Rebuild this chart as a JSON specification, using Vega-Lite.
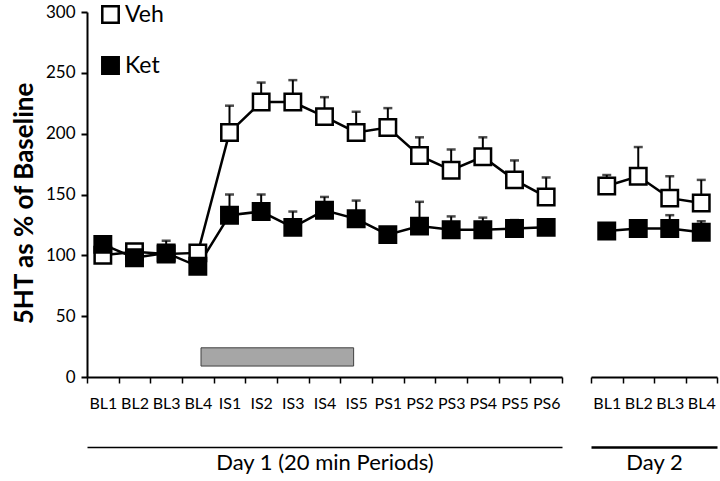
{
  "$schema": "https://vega.github.io/schema/vega-lite/v6.json",
  "background": "white",
  "padding": {"left": 11, "top": 3, "right": 2, "bottom": 5},
  "config": {
    "view": {"stroke": null},
    "font": "Lato",
    "concat": {"spacing": 25},
    "axis": {"domainColor": "black", "tickColor": "black", "labelColor": "black", "titleColor": "black", "grid": false}
  },
  "datasets": {
    "main": [
      {"day": 1, "idx": 1, "period": "BL1", "group": "Veh", "value": 100, "upper": 102},
      {"day": 1, "idx": 2, "period": "BL2", "group": "Veh", "value": 103, "upper": 105},
      {"day": 1, "idx": 3, "period": "BL3", "group": "Veh", "value": 101, "upper": 104},
      {"day": 1, "idx": 4, "period": "BL4", "group": "Veh", "value": 102, "upper": 103},
      {"day": 1, "idx": 5, "period": "IS1", "group": "Veh", "value": 201, "upper": 223},
      {"day": 1, "idx": 6, "period": "IS2", "group": "Veh", "value": 226, "upper": 242},
      {"day": 1, "idx": 7, "period": "IS3", "group": "Veh", "value": 226, "upper": 244},
      {"day": 1, "idx": 8, "period": "IS4", "group": "Veh", "value": 214, "upper": 230},
      {"day": 1, "idx": 9, "period": "IS5", "group": "Veh", "value": 201, "upper": 218},
      {"day": 1, "idx": 10, "period": "PS1", "group": "Veh", "value": 205, "upper": 221},
      {"day": 1, "idx": 11, "period": "PS2", "group": "Veh", "value": 182, "upper": 197},
      {"day": 1, "idx": 12, "period": "PS3", "group": "Veh", "value": 170, "upper": 187},
      {"day": 1, "idx": 13, "period": "PS4", "group": "Veh", "value": 181, "upper": 197},
      {"day": 1, "idx": 14, "period": "PS5", "group": "Veh", "value": 162, "upper": 178},
      {"day": 1, "idx": 15, "period": "PS6", "group": "Veh", "value": 148, "upper": 164},
      {"day": 2, "idx": 1, "period": "BL1", "group": "Veh", "value": 157, "upper": 166},
      {"day": 2, "idx": 2, "period": "BL2", "group": "Veh", "value": 165, "upper": 189},
      {"day": 2, "idx": 3, "period": "BL3", "group": "Veh", "value": 147, "upper": 165},
      {"day": 2, "idx": 4, "period": "BL4", "group": "Veh", "value": 143, "upper": 162},
      {"day": 1, "idx": 1, "period": "BL1", "group": "Ket", "value": 109, "upper": 111},
      {"day": 1, "idx": 2, "period": "BL2", "group": "Ket", "value": 98, "upper": 100},
      {"day": 1, "idx": 3, "period": "BL3", "group": "Ket", "value": 102, "upper": 112},
      {"day": 1, "idx": 4, "period": "BL4", "group": "Ket", "value": 91, "upper": 93},
      {"day": 1, "idx": 5, "period": "IS1", "group": "Ket", "value": 133, "upper": 150},
      {"day": 1, "idx": 6, "period": "IS2", "group": "Ket", "value": 136, "upper": 150},
      {"day": 1, "idx": 7, "period": "IS3", "group": "Ket", "value": 123, "upper": 136},
      {"day": 1, "idx": 8, "period": "IS4", "group": "Ket", "value": 137, "upper": 148},
      {"day": 1, "idx": 9, "period": "IS5", "group": "Ket", "value": 130, "upper": 145},
      {"day": 1, "idx": 10, "period": "PS1", "group": "Ket", "value": 117, "upper": 119},
      {"day": 1, "idx": 11, "period": "PS2", "group": "Ket", "value": 124, "upper": 144},
      {"day": 1, "idx": 12, "period": "PS3", "group": "Ket", "value": 121, "upper": 132},
      {"day": 1, "idx": 13, "period": "PS4", "group": "Ket", "value": 121, "upper": 131},
      {"day": 1, "idx": 14, "period": "PS5", "group": "Ket", "value": 122, "upper": 129},
      {"day": 1, "idx": 15, "period": "PS6", "group": "Ket", "value": 123, "upper": 125},
      {"day": 2, "idx": 1, "period": "BL1", "group": "Ket", "value": 120, "upper": 122},
      {"day": 2, "idx": 2, "period": "BL2", "group": "Ket", "value": 122, "upper": 124},
      {"day": 2, "idx": 3, "period": "BL3", "group": "Ket", "value": 122, "upper": 133},
      {"day": 2, "idx": 4, "period": "BL4", "group": "Ket", "value": 119, "upper": 128}
    ],
    "bar": [{"start": 3.6, "end": 8.42, "low": 9, "high": 24}],
    "day2frame": [{"pos": 0}, {"pos": 4}]
  },
  "resolve": {"scale": {"fill": "independent"}, "legend": {"fill": "independent"}},
  "hconcat": [
    {
      "width": 475,
      "height": 365,
      "resolve": {"scale": {"x": "independent"}, "axis": {"x": "independent"}},
      "layer": [
        {
          "data": {"name": "bar"},
          "mark": {"type": "rect", "fill": "#a6a6a6", "stroke": "#404040", "strokeWidth": 1},
          "encoding": {
            "x": {"field": "start", "type": "quantitative", "scale": {"domain": [0, 15], "nice": false, "zero": false},
              "axis": {"orient": "bottom", "offset": 70, "ticks": false, "labels": false, "domainWidth": 1.5,
                "title": "Day 1 (20 min Periods)", "titleFontSize": 22, "titleFontWeight": "normal", "titlePadding": 5}},
            "x2": {"field": "end"},
            "y": {"field": "low", "type": "quantitative", "scale": {"domain": [0, 300], "nice": false},
              "axis": {"values": [0, 50, 100, 150, 200, 250, 300], "domainWidth": 2, "tickWidth": 2, "tickSize": 6, "labelFontSize": 17, "labelPadding": 6,
                "title": "5HT as % of Baseline", "titleFontSize": 26, "titleFontWeight": "bold", "titlePadding": 8, "titleY": 191}},
            "y2": {"field": "high"}
          }
        },
        {
          "data": {"name": "main"},
          "transform": [{"filter": "datum.day == 1"}],
          "encoding": {
            "x": {"field": "period", "type": "nominal",
              "scale": {"domain": ["BL1","BL2","BL3","BL4","IS1","IS2","IS3","IS4","IS5","PS1","PS2","PS3","PS4","PS5","PS6"], "paddingInner": 0, "paddingOuter": 0},
              "axis": {"orient": "bottom", "tickBand": "extent", "labelAngle": 0, "labelFontSize": 16, "labelPadding": 12, "tickSize": 6, "tickWidth": 1.5, "domainWidth": 2, "title": null}},
            "y": {"field": "value", "type": "quantitative", "scale": {"domain": [0, 300], "nice": false},
              "axis": {"values": [0, 50, 100, 150, 200, 250, 300], "domainWidth": 2, "tickWidth": 2, "tickSize": 6, "labelFontSize": 17, "labelPadding": 6,
                "title": "5HT as % of Baseline", "titleFontSize": 26, "titleFontWeight": "bold", "titlePadding": 8, "titleY": 191}}
          },
          "layer": [
            {"mark": {"type": "line", "color": "black", "strokeWidth": 2.5},
              "encoding": {"detail": {"field": "group"}, "order": {"field": "idx", "type": "quantitative"}}},
            {"mark": {"type": "rule", "color": "black", "strokeWidth": 2},
              "encoding": {"y2": {"field": "upper"}}},
            {"mark": {"type": "tick", "color": "black", "orient": "horizontal", "size": 9, "thickness": 2.5},
              "encoding": {"y": {"field": "upper", "type": "quantitative"}}},
            {"mark": {"type": "point", "shape": "square", "size": 270, "stroke": "black", "strokeWidth": 2.5, "opacity": 1, "filled": false},
              "encoding": {
                "fill": {"field": "group", "type": "nominal",
                  "scale": {"domain": ["Veh", "Ket"], "range": ["white", "black"]},
                  "legend": {"orient": "none", "legendX": 12, "legendY": -9, "title": null, "direction": "vertical",
                    "symbolType": "square", "symbolSize": 270, "symbolStrokeColor": "black", "symbolStrokeWidth": 2.5,
                    "labelFontSize": 23, "labelColor": "black", "labelOffset": 3, "rowPadding": 24}}
              }}
          ]
        }
      ]
    },
    {
      "width": 126,
      "height": 365,
      "resolve": {"scale": {"x": "independent"}, "axis": {"x": "independent"}},
      "layer": [
        {
          "data": {"name": "day2frame"},
          "mark": {"type": "point", "opacity": 0},
          "encoding": {
            "x": {"field": "pos", "type": "quantitative", "scale": {"domain": [0, 4], "nice": false, "zero": false},
              "axis": {"orient": "bottom", "offset": 70, "ticks": false, "labels": false, "domainWidth": 2.5,
                "title": "Day 2", "titleFontSize": 22, "titleFontWeight": "normal", "titlePadding": 5}}
          }
        },
        {
          "data": {"name": "main"},
          "transform": [{"filter": "datum.day == 2"}],
          "encoding": {
            "x": {"field": "period", "type": "nominal",
              "scale": {"domain": ["BL1","BL2","BL3","BL4"], "paddingInner": 0, "paddingOuter": 0},
              "axis": {"orient": "bottom", "tickBand": "extent", "labelAngle": 0, "labelFontSize": 16, "labelPadding": 12, "tickSize": 6, "tickWidth": 1.5, "domainWidth": 2, "title": null}},
            "y": {"field": "value", "type": "quantitative", "scale": {"domain": [0, 300], "nice": false}, "axis": null}
          },
          "layer": [
            {"mark": {"type": "line", "color": "black", "strokeWidth": 2.5},
              "encoding": {"detail": {"field": "group"}, "order": {"field": "idx", "type": "quantitative"}}},
            {"mark": {"type": "rule", "color": "black", "strokeWidth": 2},
              "encoding": {"y2": {"field": "upper"}}},
            {"mark": {"type": "tick", "color": "black", "orient": "horizontal", "size": 9, "thickness": 2.5},
              "encoding": {"y": {"field": "upper", "type": "quantitative"}}},
            {"mark": {"type": "point", "shape": "square", "size": 270, "stroke": "black", "strokeWidth": 2.5, "opacity": 1, "filled": false},
              "encoding": {
                "fill": {"field": "group", "type": "nominal",
                  "scale": {"domain": ["Veh", "Ket"], "range": ["white", "black"]},
                  "legend": null}
              }}
          ]
        }
      ]
    }
  ]
}
